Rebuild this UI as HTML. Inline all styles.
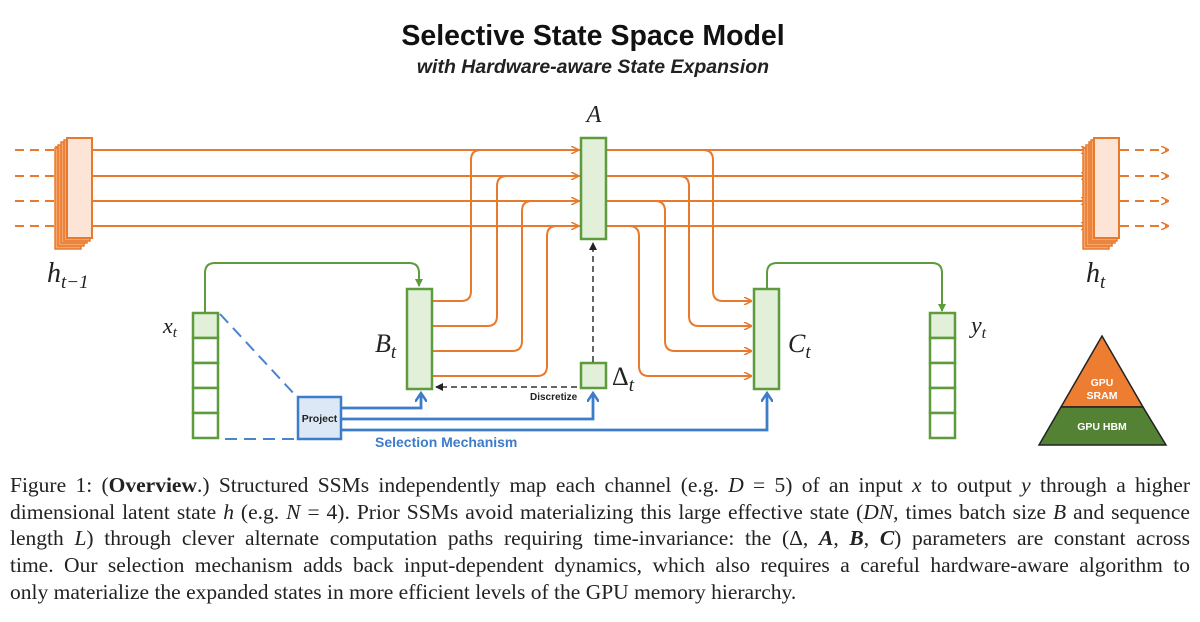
<!DOCTYPE html>
<html><head><meta charset="utf-8"><style>
body{margin:0;background:#fff;width:1200px;height:622px;overflow:hidden;position:relative}
svg{position:absolute;left:0;top:0}
.cap{position:absolute;left:10px;width:1180px;font-family:"Liberation Serif",serif;font-size:21.5px;color:#222;line-height:26.7px;top:472px}
.cap div{text-align:justify;text-align-last:justify;white-space:nowrap;height:26.7px}
.cap div.last{text-align-last:left}
i{font-style:italic}
</style></head><body>
<svg width="1200" height="622" viewBox="0 0 1200 622">
<defs>
<marker id="ao" markerWidth="8" markerHeight="8" refX="7" refY="4" orient="auto" markerUnits="userSpaceOnUse"><path d="M0,0 L8,4 L0,8" fill="none" stroke="#e87a2e" stroke-width="1.6"/></marker>
<marker id="ag" markerWidth="8" markerHeight="8" refX="7" refY="4" orient="auto" markerUnits="userSpaceOnUse"><path d="M0,0 L8,4 L0,8 Z" fill="#5d9b3c"/></marker>
<marker id="ab" markerWidth="12" markerHeight="12" refX="9" refY="6" orient="auto" markerUnits="userSpaceOnUse"><path d="M0,0 L9,6 L0,12" fill="none" stroke="#3d7cc9" stroke-width="2.5"/></marker>
<marker id="ak" markerWidth="8" markerHeight="8" refX="7" refY="4" orient="auto" markerUnits="userSpaceOnUse"><path d="M0,0 L8,4 L0,8 Z" fill="#222"/></marker>
</defs>
<text x="593" y="45" text-anchor="middle" font-family="Liberation Sans,sans-serif" font-weight="bold" font-size="28.5" fill="#111">Selective State Space Model</text>
<text x="593" y="73" text-anchor="middle" font-family="Liberation Sans,sans-serif" font-weight="bold" font-style="italic" font-size="19.5" fill="#222">with Hardware-aware State Expansion</text>
<text x="594" y="122" text-anchor="middle" font-family="Liberation Serif,serif" font-style="italic" font-size="24" fill="#222">A</text>

<g stroke="#e87a2e" stroke-width="2" stroke-dasharray="9,6" fill="none">
<path d="M15 150H62" marker-end="url(#ao)"/><path d="M15 176H62" marker-end="url(#ao)"/><path d="M15 201H62" marker-end="url(#ao)"/><path d="M15 226H62" marker-end="url(#ao)"/>
<path d="M1120 150H1168" marker-end="url(#ao)"/><path d="M1120 176H1168" marker-end="url(#ao)"/><path d="M1120 201H1168" marker-end="url(#ao)"/><path d="M1120 226H1168" marker-end="url(#ao)"/>
</g>
<g stroke="#e87a2e" stroke-width="2" fill="none">
<path d="M92 150H1088" marker-end="url(#ao)"/><path d="M92 176H1088" marker-end="url(#ao)"/><path d="M92 201H1088" marker-end="url(#ao)"/><path d="M92 226H1088" marker-end="url(#ao)"/>
<path d="M432 301H461Q471 301 471 291V160Q471 150 481 150H578" marker-end="url(#ao)"/>
<path d="M432 326H487Q497 326 497 316V186Q497 176 507 176H578" marker-end="url(#ao)"/>
<path d="M432 351H512Q522 351 522 341V211Q522 201 532 201H578" marker-end="url(#ao)"/>
<path d="M432 376H537Q547 376 547 366V236Q547 226 557 226H578" marker-end="url(#ao)"/>
<path d="M703 150Q713 150 713 160V291Q713 301 723 301H751" marker-end="url(#ao)"/>
<path d="M679 176Q689 176 689 186V316Q689 326 699 326H751" marker-end="url(#ao)"/>
<path d="M655 201Q665 201 665 211V341Q665 351 675 351H751" marker-end="url(#ao)"/>
<path d="M629 226Q639 226 639 236V366Q639 376 649 376H751" marker-end="url(#ao)"/>
</g>
<g stroke="#e87a2e" stroke-width="1.5" fill="#f6a56b">
<rect x="55" y="148" width="26" height="101"/><rect x="58" y="145" width="26" height="101"/><rect x="61" y="142" width="26" height="101"/><rect x="64" y="140" width="26" height="101"/>
<rect x="1083" y="148" width="26" height="101"/><rect x="1086" y="145" width="26" height="101"/><rect x="1089" y="142" width="26" height="101"/><rect x="1091" y="140" width="26" height="101"/>
</g>
<rect x="67" y="138" width="25" height="100" fill="#fce4d6" stroke="#e87a2e" stroke-width="2"/>
<rect x="1094" y="138" width="25" height="100" fill="#fce4d6" stroke="#e87a2e" stroke-width="2"/>
<text x="47" y="282" font-family="Liberation Serif,serif" font-style="italic" font-size="28" fill="#222">h<tspan font-size="19" dy="6">t−1</tspan></text>
<text x="1086" y="282" font-family="Liberation Serif,serif" font-style="italic" font-size="28" fill="#222">h<tspan font-size="19" dy="6">t</tspan></text>

<rect x="581" y="138" width="25" height="101" fill="#e2efd9" stroke="#5d9b3c" stroke-width="2.5"/>
<rect x="407" y="289" width="25" height="100" fill="#e2efd9" stroke="#5d9b3c" stroke-width="2.5"/>
<rect x="754" y="289" width="25" height="100" fill="#e2efd9" stroke="#5d9b3c" stroke-width="2.5"/>
<rect x="581" y="363" width="25" height="25" fill="#e2efd9" stroke="#5d9b3c" stroke-width="2.5"/>
<text x="375" y="352" font-family="Liberation Serif,serif" font-style="italic" font-size="26" fill="#222">B<tspan font-size="19" dy="6">t</tspan></text>
<text x="788" y="352" font-family="Liberation Serif,serif" font-style="italic" font-size="26" fill="#222">C<tspan font-size="19" dy="6">t</tspan></text>
<text x="612" y="385" font-family="Liberation Serif,serif" font-size="26" fill="#222">Δ<tspan font-style="italic" font-size="19" dy="6">t</tspan></text>
<g stroke="#5d9b3c" stroke-width="2.5" fill="#fff">
<rect x="193" y="313" width="25" height="25" fill="#e2efd9"/><rect x="193" y="338" width="25" height="25"/><rect x="193" y="363" width="25" height="25"/><rect x="193" y="388" width="25" height="25"/><rect x="193" y="413" width="25" height="25"/>
<rect x="930" y="313" width="25" height="25" fill="#e2efd9"/><rect x="930" y="338" width="25" height="25"/><rect x="930" y="363" width="25" height="25"/><rect x="930" y="388" width="25" height="25"/><rect x="930" y="413" width="25" height="25"/>
</g>
<text x="163" y="333" font-family="Liberation Serif,serif" font-style="italic" font-size="22" fill="#222">x<tspan font-size="15" dy="4">t</tspan></text>
<text x="971" y="333" font-family="Liberation Serif,serif" font-style="italic" font-size="24" fill="#222">y<tspan font-size="16" dy="5">t</tspan></text>
<g stroke="#5d9b3c" stroke-width="2" fill="none">
<path d="M205 313V273Q205 263 215 263H409Q419 263 419 273V286" marker-end="url(#ag)"/>
<path d="M767 288V273Q767 263 777 263H932Q942 263 942 273V311" marker-end="url(#ag)"/>
</g>
<g stroke="#333" stroke-width="1.5" stroke-dasharray="6,4" fill="none">
<path d="M593 362V243" marker-end="url(#ak)"/>
<path d="M577 387H436" marker-end="url(#ak)"/>
</g>
<text x="530" y="400" font-family="Liberation Sans,sans-serif" font-weight="bold" font-size="10" fill="#222">Discretize</text>
<g stroke="#4a84d0" stroke-width="2" stroke-dasharray="12,7" fill="none">
<path d="M220 314L297 397"/><path d="M225 439H295"/>
</g>
<g stroke="#3d7cc9" stroke-width="2.8" fill="none">
<path d="M341 408H421V393" marker-end="url(#ab)"/>
<path d="M341 419H593V393" marker-end="url(#ab)"/>
<path d="M341 430H767V393" marker-end="url(#ab)"/>
</g>
<rect x="298" y="397" width="43" height="42" fill="#dce8f6" stroke="#3d7cc9" stroke-width="2.5"/>
<text x="319.5" y="422" text-anchor="middle" font-family="Liberation Sans,sans-serif" font-weight="bold" font-size="10.5" fill="#222">Project</text>
<text x="375" y="447" font-family="Liberation Sans,sans-serif" font-weight="bold" font-size="14" fill="#3d7cc9">Selection Mechanism</text>
<path d="M1102 336L1143 407H1061Z" fill="#ed7d31" stroke="#222" stroke-width="1.5"/>
<path d="M1061 407H1143L1166 445H1039Z" fill="#548235" stroke="#222" stroke-width="1.5"/>
<text x="1102" y="386" text-anchor="middle" font-family="Liberation Sans,sans-serif" font-weight="bold" font-size="10.5" fill="#fff">GPU</text>
<text x="1102" y="399" text-anchor="middle" font-family="Liberation Sans,sans-serif" font-weight="bold" font-size="10.5" fill="#fff">SRAM</text>
<text x="1102" y="430" text-anchor="middle" font-family="Liberation Sans,sans-serif" font-weight="bold" font-size="10.5" fill="#fff">GPU HBM</text>
</svg>
<div class="cap">
<div>Figure 1: (<b>Overview</b>.) Structured SSMs independently map each channel (e.g. <i>D</i> = 5) of an input <i>x</i> to output <i>y</i> through a higher</div>
<div>dimensional latent state <i>h</i> (e.g. <i>N</i> = 4). Prior SSMs avoid materializing this large effective state (<i>DN</i>, times batch size <i>B</i> and sequence</div>
<div>length <i>L</i>) through clever alternate computation paths requiring time-invariance: the (Δ, <b><i>A</i></b>, <b><i>B</i></b>, <b><i>C</i></b>) parameters are constant across</div>
<div>time. Our selection mechanism adds back input-dependent dynamics, which also requires a careful hardware-aware algorithm to</div>
<div class="last">only materialize the expanded states in more efficient levels of the GPU memory hierarchy.</div>
</div>
</body></html>
